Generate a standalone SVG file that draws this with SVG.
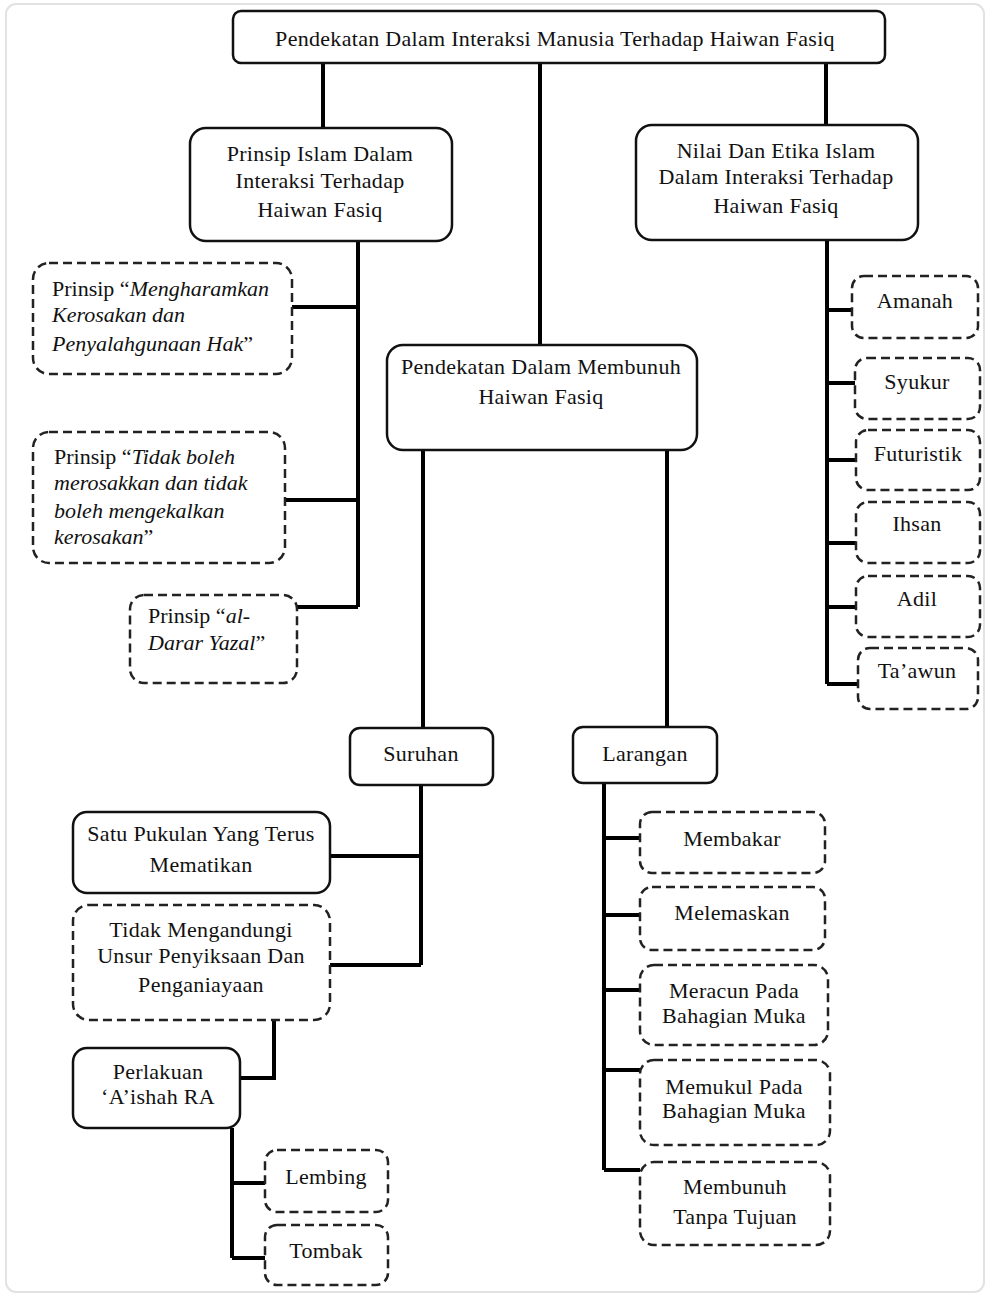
<svg xmlns="http://www.w3.org/2000/svg" width="992" height="1298" viewBox="0 0 992 1298">
<style>
.bg{fill:#ffffff}
.frame{fill:none;stroke:#e2e2e2;stroke-width:2}
.box{fill:#ffffff;stroke:#111;stroke-width:2.5}
.dbox{fill:#ffffff;stroke:#222;stroke-width:2.5;stroke-dasharray:9 5}
.t{font-family:"Liberation Serif","Times New Roman",serif;font-size:22px;letter-spacing:0.3px;fill:#111;text-anchor:middle}
.tl{font-family:"Liberation Serif","Times New Roman",serif;font-size:22px;fill:#111;text-anchor:start}
.it{font-style:italic}
.c{fill:none;stroke:#000;stroke-width:4;stroke-linejoin:miter}
</style>
<rect class="bg" x="0" y="0" width="992" height="1298"/>
<rect class="frame" x="6" y="4" width="978" height="1288" rx="10"/>

<g id="connectors">
  <path class="c" d="M323 62 V128"/>
  <path class="c" d="M540 62 V345"/>
  <path class="c" d="M826 62 V125"/>
  <path class="c" d="M358 241 V607 M292 307 H358 M285 500 H358 M297 607 H358"/>
  <path class="c" d="M827 240 V684 M827 310 H852 M827 383 H855 M827 460 H856 M827 543 H856 M827 607 H856 M827 684 H858"/>
  <path class="c" d="M423 450 V728"/>
  <path class="c" d="M667 450 V727"/>
  <path class="c" d="M421 785 V965 M330 856 H421 M330 965 H421"/>
  <path class="c" d="M274 1020 V1078 H240"/>
  <path class="c" d="M232 1128 V1258 M232 1183 H265 M232 1258 H265"/>
  <path class="c" d="M604 783 V1170 M604 838 H640 M604 915 H640 M604 990 H640 M604 1070 H640 M604 1170 H640"/>
</g>

<g id="root">
  <rect class="box" x="233" y="11" width="652" height="52" rx="8"/>
  <text class="t" x="555" y="46">Pendekatan Dalam Interaksi Manusia Terhadap Haiwan Fasiq</text>
</g>

<g id="prinsip-islam">
  <rect class="box" x="190" y="128" width="262" height="113" rx="16"/>
  <text class="t" x="320" y="161">Prinsip Islam Dalam</text>
  <text class="t" x="320" y="188">Interaksi Terhadap</text>
  <text class="t" x="320" y="217">Haiwan Fasiq</text>
</g>

<g id="nilai-etika">
  <rect class="box" x="636" y="125" width="282" height="115" rx="16"/>
  <text class="t" x="776" y="158">Nilai Dan Etika Islam</text>
  <text class="t" x="776" y="184">Dalam Interaksi Terhadap</text>
  <text class="t" x="776" y="213">Haiwan Fasiq</text>
</g>

<g id="prinsip-mengharamkan">
  <rect class="dbox" x="33" y="263" width="259" height="111" rx="16"/>
  <text class="tl" x="52" y="296">Prinsip “<tspan class="it">Mengharamkan</tspan></text>
  <text class="tl it" x="52" y="322">Kerosakan dan</text>
  <text class="tl" x="52" y="351"><tspan class="it">Penyalahgunaan Hak</tspan>”</text>
</g>

<g id="prinsip-tidak-boleh">
  <rect class="dbox" x="33" y="432" width="252" height="131" rx="16"/>
  <text class="tl" x="54" y="464">Prinsip “<tspan class="it">Tidak boleh</tspan></text>
  <text class="tl it" x="54" y="490">merosakkan dan tidak</text>
  <text class="tl it" x="54" y="518">boleh mengekalkan</text>
  <text class="tl" x="54" y="544"><tspan class="it">kerosakan</tspan>”</text>
</g>

<g id="prinsip-al-darar">
  <rect class="dbox" x="130" y="595" width="167" height="88" rx="14"/>
  <text class="tl" x="148" y="623">Prinsip “<tspan class="it">al-</tspan></text>
  <text class="tl" x="148" y="650"><tspan class="it">Darar Yazal</tspan>”</text>
</g>

<g id="membunuh">
  <rect class="box" x="387" y="345" width="310" height="105" rx="16"/>
  <text class="t" x="541" y="374">Pendekatan Dalam Membunuh</text>
  <text class="t" x="541" y="404">Haiwan Fasiq</text>
</g>

<g id="amanah">
  <rect class="dbox" x="852" y="276" width="126" height="62" rx="12"/>
  <text class="t" x="915" y="308">Amanah</text>
</g>
<g id="syukur">
  <rect class="dbox" x="855" y="358" width="125" height="61" rx="12"/>
  <text class="t" x="917" y="389">Syukur</text>
</g>
<g id="futuristik">
  <rect class="dbox" x="856" y="430" width="124" height="60" rx="12"/>
  <text class="t" x="918" y="461">Futuristik</text>
</g>
<g id="ihsan">
  <rect class="dbox" x="856" y="502" width="124" height="61" rx="12"/>
  <text class="t" x="917" y="531">Ihsan</text>
</g>
<g id="adil">
  <rect class="dbox" x="856" y="576" width="124" height="61" rx="12"/>
  <text class="t" x="917" y="606">Adil</text>
</g>
<g id="taawun">
  <rect class="dbox" x="858" y="648" width="120" height="61" rx="12"/>
  <text class="t" x="917" y="678">Ta’awun</text>
</g>

<g id="suruhan">
  <rect class="box" x="350" y="728" width="143" height="57" rx="10"/>
  <text class="t" x="421" y="761">Suruhan</text>
</g>
<g id="larangan">
  <rect class="box" x="573" y="727" width="144" height="56" rx="10"/>
  <text class="t" x="645" y="761">Larangan</text>
</g>

<g id="satu-pukulan">
  <rect class="box" x="73" y="812" width="257" height="81" rx="14"/>
  <text class="t" x="201" y="841">Satu Pukulan Yang Terus</text>
  <text class="t" x="201" y="872">Mematikan</text>
</g>
<g id="tidak-mengandungi">
  <rect class="dbox" x="73" y="905" width="257" height="115" rx="16"/>
  <text class="t" x="201" y="937">Tidak Mengandungi</text>
  <text class="t" x="201" y="963">Unsur Penyiksaan Dan</text>
  <text class="t" x="201" y="992">Penganiayaan</text>
</g>
<g id="perlakuan">
  <rect class="box" x="73" y="1048" width="167" height="80" rx="14"/>
  <text class="t" x="158" y="1079">Perlakuan</text>
  <text class="t" x="158" y="1104">‘A’ishah RA</text>
</g>
<g id="lembing">
  <rect class="dbox" x="265" y="1150" width="123" height="62" rx="12"/>
  <text class="t" x="326" y="1184">Lembing</text>
</g>
<g id="tombak">
  <rect class="dbox" x="265" y="1225" width="123" height="60" rx="12"/>
  <text class="t" x="326" y="1258">Tombak</text>
</g>

<g id="membakar">
  <rect class="dbox" x="640" y="812" width="185" height="61" rx="12"/>
  <text class="t" x="732" y="846">Membakar</text>
</g>
<g id="melemaskan">
  <rect class="dbox" x="640" y="887" width="185" height="63" rx="12"/>
  <text class="t" x="732" y="920">Melemaskan</text>
</g>
<g id="meracun">
  <rect class="dbox" x="640" y="965" width="188" height="80" rx="14"/>
  <text class="t" x="734" y="998">Meracun Pada</text>
  <text class="t" x="734" y="1023">Bahagian Muka</text>
</g>
<g id="memukul">
  <rect class="dbox" x="640" y="1060" width="190" height="85" rx="14"/>
  <text class="t" x="734" y="1094">Memukul Pada</text>
  <text class="t" x="734" y="1118">Bahagian Muka</text>
</g>
<g id="membunuh-tanpa">
  <rect class="dbox" x="640" y="1162" width="190" height="83" rx="14"/>
  <text class="t" x="735" y="1194">Membunuh</text>
  <text class="t" x="735" y="1224">Tanpa Tujuan</text>
</g>
</svg>
